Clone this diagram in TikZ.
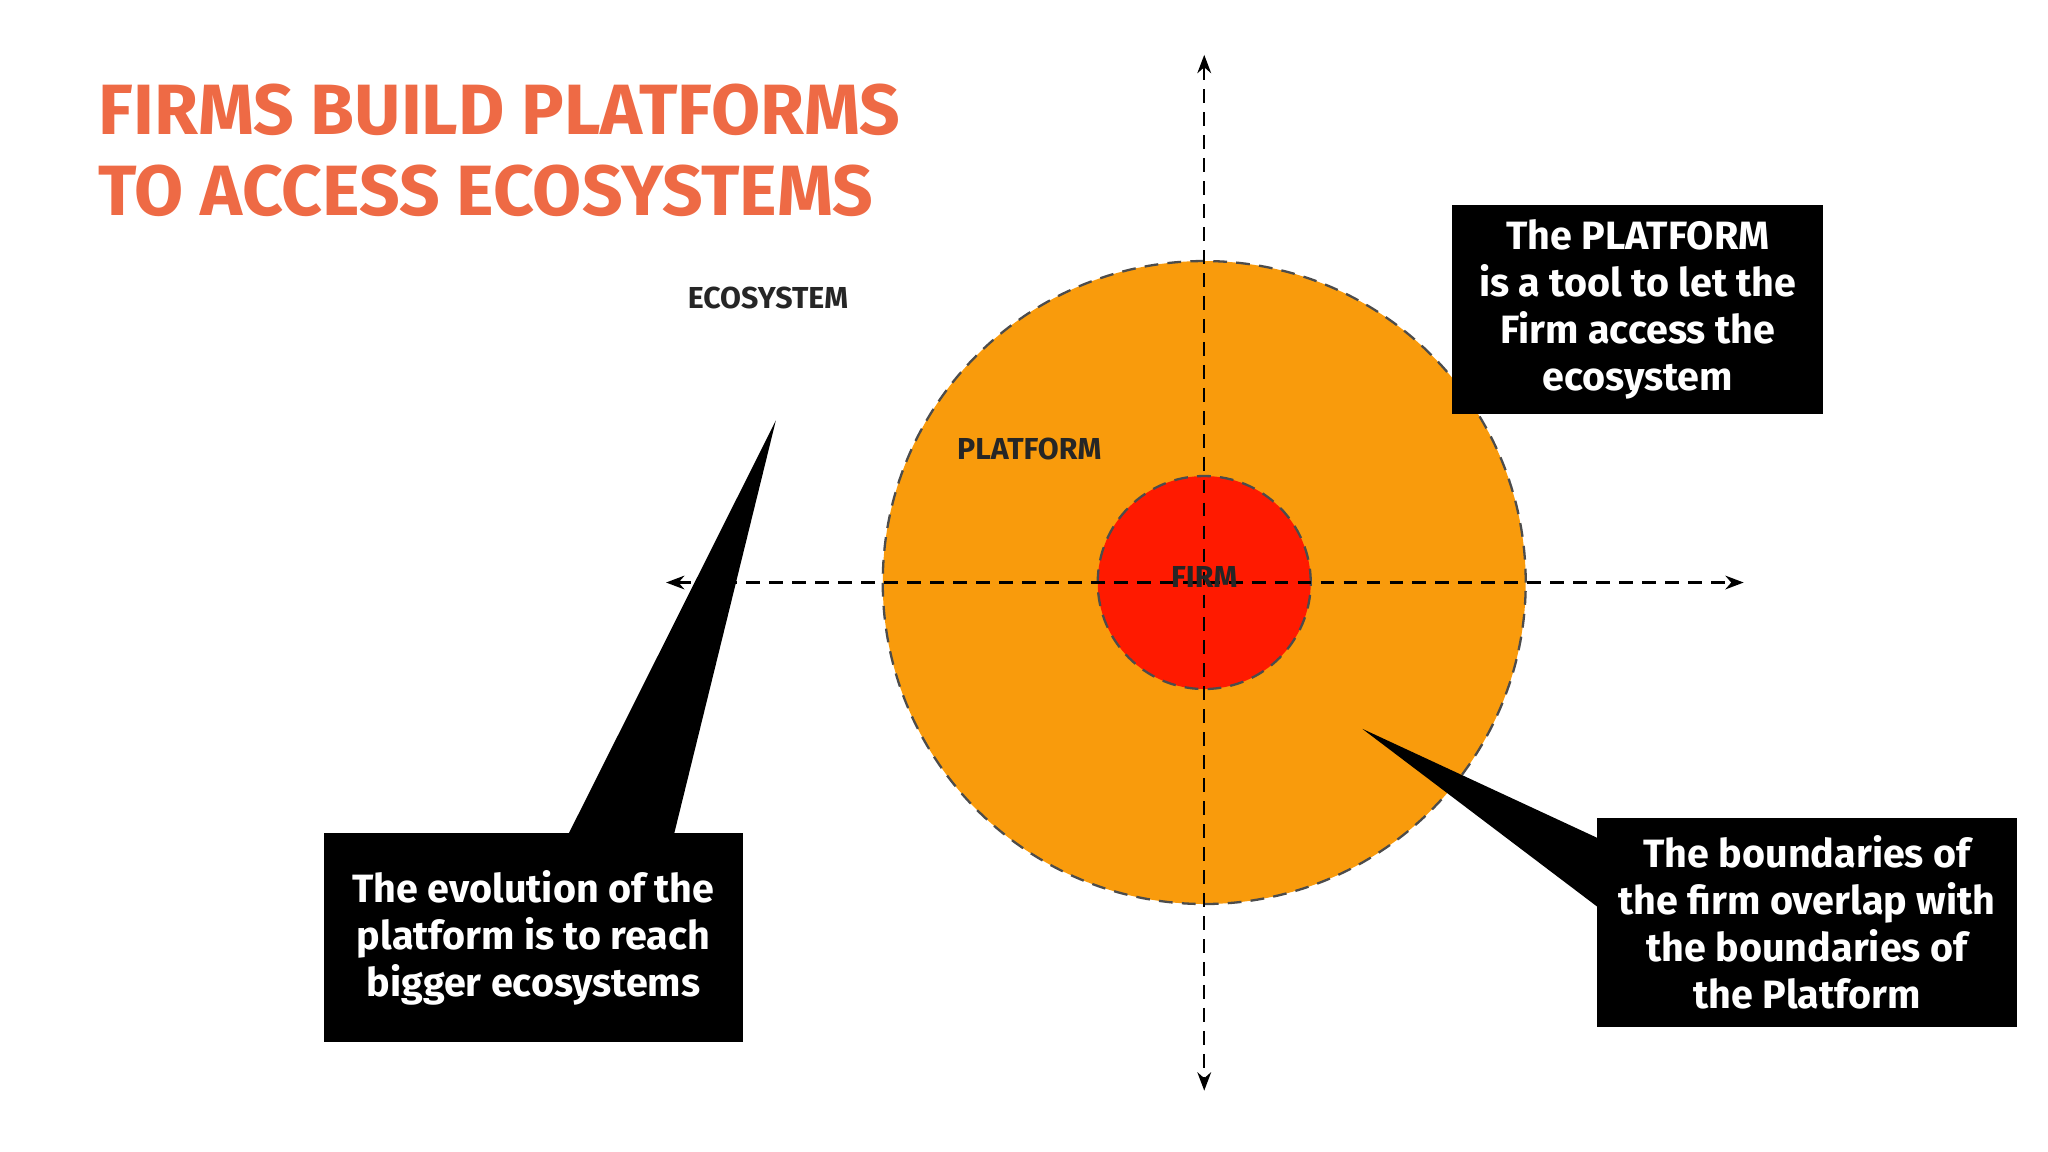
\documentclass[tikz,border=0pt]{standalone}
\usepackage{fontspec}
\setmainfont{Fira Sans}
\usetikzlibrary{arrows.meta}
\definecolor{ttl}{HTML}{EE6A45}
\definecolor{plat}{HTML}{F99B0C}
\definecolor{firmc}{HTML}{FF1A00}
\tikzset{
 axis/.style={densely dashed,line width=0.5pt,{Stealth[length=4pt]}-{Stealth[length=4pt]}},
 ring/.style={densely dashed,line width=0.5pt,draw=black!70},
 lbl/.style={font=\fontsize{6.6}{8}\selectfont\bfseries,text=black!85},
 callout/.style={fill=black,text=white,font=\fontsize{8.6}{10.2}\selectfont\bfseries,align=center,inner sep=0pt},
 ttlstyle/.style={text=ttl,font=\fontsize{15.5}{18}\selectfont\bfseries,anchor=west,inner sep=0pt}
}
\begin{document}
\begin{tikzpicture}[x=0.01cm,y=-0.01cm]
\useasboundingbox[fill=white] (0,0) rectangle (1568,882);
\node[ttlstyle] (t1) at (75,84) {FIRMS BUILD PLATFORMS};
\node[ttlstyle] (t2) at (75,146) {TO ACCESS ECOSYSTEMS};
\node[circle,ring,fill=plat,minimum size=4.92cm,inner sep=0pt] (plat) at (922,446) {};
\node[circle,ring,fill=firmc,minimum size=1.63cm,inner sep=0pt] (firm) at (922,446) {};
\coordinate (vt) at (922,42); \coordinate (vb) at (922,835);
\coordinate (hl) at (510,446); \coordinate (hr) at (1335,446);
\draw[axis] (vt) -- (vb);
\draw[axis] (hl) -- (hr);
\node[lbl] (eco) at (588,228) {ECOSYSTEM};
\node[lbl] (pl) at (788,344) {PLATFORM};
\node[lbl] (fi) at (922,442) {FIRM};
% callouts
\fill (435,639) -- (594,322) -- (516,639) -- cycle;
\fill (1224,642) -- (1043,558) -- (1224,695) -- cycle;
\node[callout,minimum width=2.84cm,minimum height=1.6cm] (b1) at (1254,237) {The PLATFORM\\is a tool to let the\\Firm access the\\ecosystem};
\node[callout,minimum width=3.21cm,minimum height=1.6cm] (b2) at (408.5,718) {The evolution of the\\platform is to reach\\bigger ecosystems};
\node[callout,minimum width=3.21cm,minimum height=1.6cm] (b3) at (1383.5,706) {The boundaries of\\the firm overlap with\\the boundaries of\\the Platform};
\end{tikzpicture}
\end{document}
